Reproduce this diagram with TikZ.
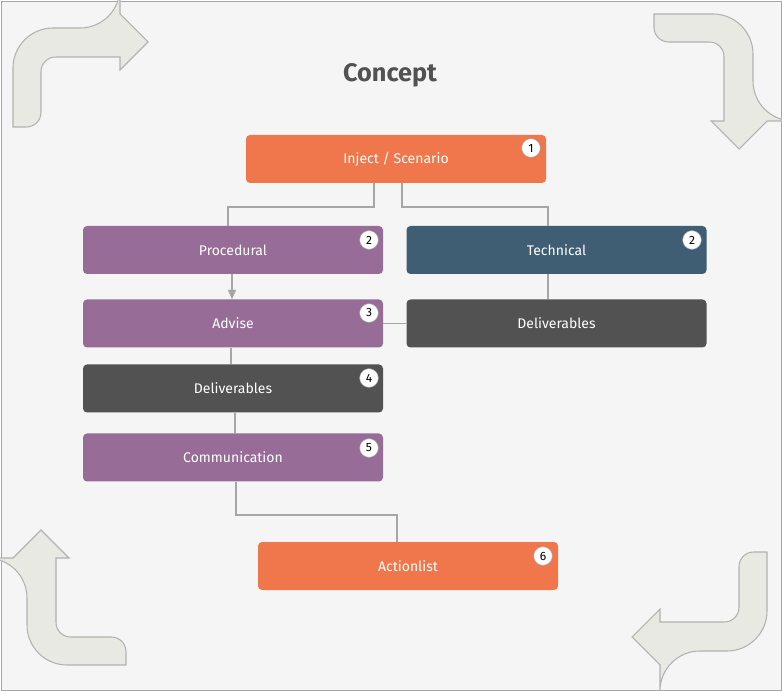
\documentclass[tikz,border=0pt]{standalone}
\usepackage{fontspec}
\setmainfont{Fira Sans}
\usetikzlibrary{arrows.meta}
\definecolor{bgGray}{HTML}{F5F5F5}
\definecolor{cOrange}{HTML}{F0774B}
\definecolor{cPurple}{HTML}{976D98}
\definecolor{cSlate}{HTML}{3F5D73}
\definecolor{cDark}{HTML}{525252}
\definecolor{cArrow}{HTML}{E8E9E2}
\newcommand{\bentArrow}{%
  \draw[bentarrow] (0,113) [rounded corners=30pt] -- (0,14) -- (107,14) [sharp corners] -- (107,0) -- (135,28)
    -- (107,56) -- (107,43) [rounded corners=11pt] -- (28,43) -- (28,113) [sharp corners] -- cycle;}
\begin{document}
\begin{tikzpicture}[x=0.75pt,y=-0.75pt,
  box/.style={rounded corners=3pt, minimum width=225pt, minimum height=36pt,
    text=white, font=\fontsize{10.5}{12}\selectfont, inner sep=0pt},
  badge/.style={circle, draw=gray!70, fill=white, minimum size=14pt, inner sep=0pt,
    font=\fontsize{9}{10}\selectfont},
  link/.style={draw=gray!70, line width=0.8pt},
  bentarrow/.style={fill=cArrow, draw=gray!60, line width=0.8pt}]

  \draw[fill=bgGray, draw=gray!70] (1,1) rectangle (781,690);
  \useasboundingbox (0,0) rectangle (782,691);

  % bent arrows in the corners
  \begin{scope}[shift={(13,14)}] \bentArrow \end{scope}
  \begin{scope}[shift={(767,14)}, rotate=-90] \bentArrow \end{scope}
  \begin{scope}[shift={(767,665)}, rotate=180] \bentArrow \end{scope}
  \begin{scope}[shift={(13,665)}, rotate=90] \bentArrow \end{scope}

  \node[font=\bfseries\fontsize{19}{22}\selectfont, text=cDark] (title) at (390,75) {Concept};

  \node[box, fill=cOrange] (inject) at (396,159) {Inject / Scenario};
  \node[box, fill=cPurple] (proc) at (233,250) {Procedural};
  \node[box, fill=cSlate] (tech) at (556.5,250) {Technical};
  \node[box, fill=cPurple] (advise) at (233,323.5) {Advise};
  \node[box, fill=cDark] (delivR) at (556.5,323.5) {Deliverables};
  \node[box, fill=cDark] (delivL) at (233,388.5) {Deliverables};
  \node[box, fill=cPurple] (comm) at (233,457.5) {Communication};
  \node[box, fill=cOrange] (action) at (408,566) {Actionlist};

  \node[badge] (b1) at (531,148) {1};
  \node[badge] (b2) at (369,240) {2};
  \node[badge] (b3) at (692,240) {2};
  \node[badge] (b4) at (369,313) {3};
  \node[badge] (b5) at (369,378) {4};
  \node[badge] (b6) at (369,448) {5};
  \node[badge] (b7) at (543,556) {6};

  % connectors
  \draw[link] (inject.south -| 374,0) -- (374,207) -- (228,207) -- (proc.north -| 228,0);
  \draw[link] (inject.south -| 402,0) -- (402,207) -- (548,207) -- (tech.north -| 548,0);
  \draw[link, -{Triangle[length=7pt, width=6pt]}] (proc.south -| 232,0) -- (advise.north -| 232,0);
  \draw[link] (tech.south -| 548,0) -- (delivR.north -| 548,0);
  \draw[link] (delivR.west) -- (advise.east);
  \draw[link] (advise.south -| 231,0) -- (delivL.north -| 231,0);
  \draw[link] (delivL.south -| 235,0) -- (comm.north -| 235,0);
  \draw[link] (comm.south -| 236,0) -- (236,515) -- (397,515) -- (action.north -| 397,0);
\end{tikzpicture}
\end{document}
